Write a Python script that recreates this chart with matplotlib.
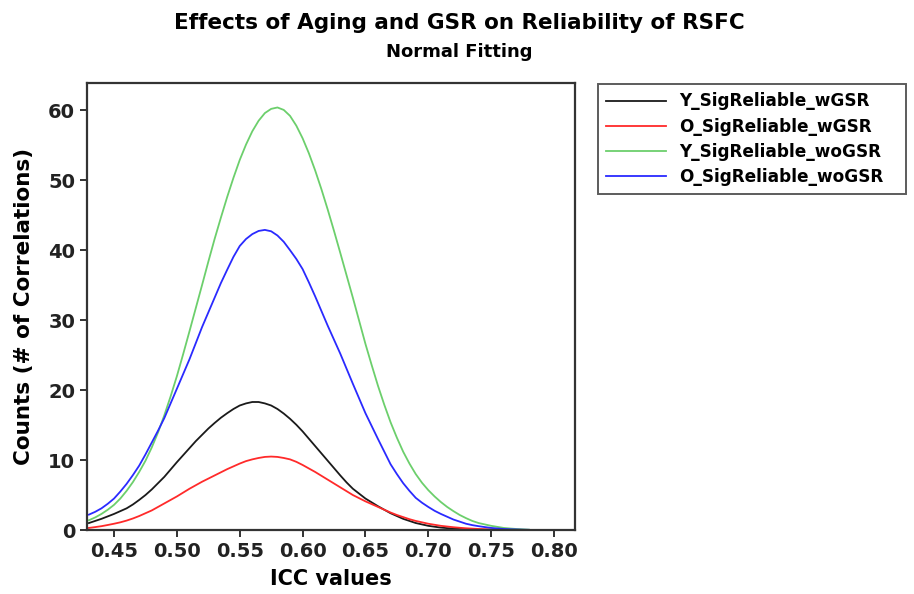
import numpy as np
import matplotlib
matplotlib.use('Agg')
import matplotlib.pyplot as plt

icc = [0.430, 0.435, 0.440, 0.445, 0.450, 0.455, 0.460, 0.465, 0.470, 0.475,
       0.480, 0.485, 0.490, 0.495, 0.500, 0.505, 0.510, 0.515, 0.520, 0.525,
       0.530, 0.535, 0.540, 0.545, 0.550, 0.555, 0.560, 0.565, 0.570, 0.575,
       0.580, 0.585, 0.590, 0.595, 0.600, 0.605, 0.610, 0.615, 0.620, 0.625,
       0.630, 0.635, 0.640, 0.645, 0.650, 0.655, 0.660, 0.665, 0.670, 0.675,
       0.680, 0.685, 0.690, 0.695, 0.700, 0.705, 0.710, 0.715, 0.720, 0.725,
       0.730, 0.735, 0.740, 0.745, 0.750, 0.755, 0.760, 0.765, 0.770, 0.775,
       0.780]

y_wgsr = [1.0, 1.3, 1.6, 1.95, 2.3, 2.7, 3.1, 3.65, 4.3, 5.0,
          5.8, 6.7, 7.6, 8.65, 9.7, 10.7, 11.7, 12.7, 13.6, 14.5,
          15.3, 16.05, 16.7, 17.3, 17.8, 18.1, 18.3, 18.3, 18.1, 17.8,
          17.3, 16.65, 15.9, 15.05, 14.1, 13.05, 12.0, 10.95, 9.9, 8.85,
          7.8, 6.8, 5.9, 5.2, 4.5, 3.95, 3.4, 2.9, 2.4, 2.0,
          1.6, 1.3, 1.0, 0.8, 0.6, 0.47, 0.35, 0.27, 0.2, 0.15,
          0.1, 0.07, 0.05, 0.03, 0.02, 0.015, 0.01, 0.005, 0.0, 0.0,
          0.0]
o_wgsr = [0.3, 0.42, 0.55, 0.72, 0.9, 1.1, 1.35, 1.65, 2.0, 2.4,
          2.8, 3.3, 3.8, 4.3, 4.8, 5.35, 5.9, 6.4, 6.9, 7.35,
          7.8, 8.25, 8.7, 9.1, 9.5, 9.85, 10.1, 10.3, 10.45, 10.5,
          10.45, 10.3, 10.1, 9.75, 9.3, 8.8, 8.3, 7.75, 7.2, 6.65,
          6.1, 5.55, 5.0, 4.55, 4.1, 3.7, 3.3, 2.9, 2.5, 2.15,
          1.85, 1.55, 1.3, 1.1, 0.9, 0.75, 0.6, 0.5, 0.4, 0.32,
          0.25, 0.2, 0.15, 0.12, 0.1, 0.07, 0.05, 0.04, 0.03, 0.02,
          0.01]
y_wogsr = [1.4, 1.8, 2.3, 2.9, 3.6, 4.5, 5.6, 6.85, 8.3, 9.9,
           11.8, 13.95, 16.4, 19.1, 22.0, 25.15, 28.4, 31.7, 35.0, 38.35,
           41.6, 44.65, 47.6, 50.35, 52.9, 55.1, 57.0, 58.5, 59.6, 60.2,
           60.4, 60.05, 59.2, 57.8, 56.0, 53.85, 51.4, 48.7, 45.8, 42.75,
           39.6, 36.4, 33.2, 29.9, 26.6, 23.55, 20.6, 17.9, 15.4, 13.2,
           11.2, 9.5, 8.0, 6.75, 5.7, 4.8, 4.0, 3.3, 2.7, 2.15,
           1.7, 1.3, 1.0, 0.8, 0.6, 0.45, 0.3, 0.22, 0.15, 0.1,
           0.05]
o_wogsr = [2.2, 2.6, 3.1, 3.75, 4.5, 5.5, 6.6, 7.85, 9.2, 10.8,
           12.5, 14.2, 16.0, 18.1, 20.2, 22.3, 24.4, 26.7, 29.0, 31.1,
           33.2, 35.3, 37.2, 39.05, 40.6, 41.6, 42.3, 42.75, 42.9, 42.7,
           42.1, 41.2, 40.0, 38.75, 37.3, 35.4, 33.4, 31.3, 29.2, 27.2,
           25.2, 23.05, 20.9, 18.8, 16.7, 14.85, 13.0, 11.2, 9.4, 8.0,
           6.7, 5.6, 4.6, 3.9, 3.3, 2.75, 2.3, 1.9, 1.5, 1.2,
           0.9, 0.7, 0.55, 0.42, 0.3, 0.22, 0.15, 0.11, 0.08, 0.05,
           0.03]

xticks = [0.45, 0.50, 0.55, 0.60, 0.65, 0.70, 0.75, 0.80]
yticks = [0, 10, 20, 30, 40, 50, 60]

plt.rcParams['font.family'] = ['DejaVu Sans']
plt.rcParams['font.weight'] = 'bold'

fig = plt.figure(figsize=(9.14, 5.94), dpi=100)
ax = fig.add_axes([0.0952, 0.1077, 0.5339, 0.7526])

ax.plot(icc, y_wgsr, color='#1a1a1a', lw=1.3, label='Y_SigReliable_wGSR')
ax.plot(icc, o_wgsr, color='#ff2a2a', lw=1.3, label='O_SigReliable_wGSR')
ax.plot(icc, y_wogsr, color='#6ccf6c', lw=1.3, label='Y_SigReliable_woGSR')
ax.plot(icc, o_wogsr, color='#2a2aff', lw=1.3, label='O_SigReliable_woGSR')

ax.set_xlim(0.4285, 0.8167)
ax.set_ylim(0, 63.9)
ax.set_xticks(xticks)
ax.set_xticklabels(['%.2f' % t for t in xticks], fontsize=14, fontweight='bold')
ax.set_yticks(yticks)
ax.set_yticklabels([str(t) for t in yticks], fontsize=14, fontweight='bold')
ax.tick_params(direction='out', length=5, width=1.3, colors='#222222')

for s in ax.spines.values():
    s.set_linewidth(1.6)
    s.set_color('#333333')

ax.set_xlabel('ICC values', fontsize=15, fontweight='bold', labelpad=6)
ax.set_ylabel('Counts (# of Correlations)', fontsize=15.5, fontweight='bold', labelpad=10)

fig.text(0.503, 0.962, 'Effects of Aging and GSR on Reliability of RSFC',
         ha='center', va='center', fontsize=15.5, fontweight='bold')
fig.text(0.503, 0.912, 'Normal Fitting', ha='center', va='center',
         fontsize=13, fontweight='bold')

# legend box stretched to the width it has in the original
leg = fig.legend(loc='upper left',
                 bbox_to_anchor=(598 / 914, 1 - 197 / 594, 308 / 914, 113 / 594),
                 mode='expand', fontsize=12.2, frameon=True, fancybox=False,
                 handlelength=3.5, handletextpad=0.8, borderpad=0.5,
                 labelspacing=0.42, borderaxespad=0)
leg.get_frame().set_edgecolor('#333333')
leg.get_frame().set_linewidth(1.4)

plt.savefig('out.png', dpi=100)
